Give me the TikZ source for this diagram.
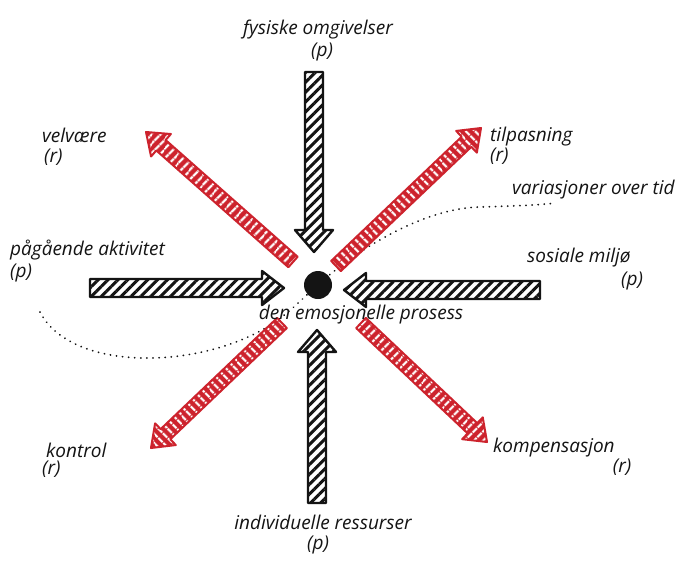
\documentclass[tikz,border=0pt]{standalone}
\usepackage{fontspec}
\setmainfont{Open Sans}
\usetikzlibrary{calc,patterns.meta}
\definecolor{redink}{RGB}{205,35,45}
\definecolor{ink}{RGB}{20,20,20}
\tikzset{
  lbl/.style={font=\itshape\fontsize{19}{21}\selectfont, inner sep=0pt, text=ink},
  blackarrow/.style={preaction={fill=white},
    preaction={pattern={Lines[angle=45,distance=7pt,line width=3pt]}, pattern color=ink},
    draw=ink, line width=2.4pt, line join=round},
  redarrow/.style={preaction={fill=redink},
    preaction={pattern={Lines[angle=#1,distance=6.5pt,line width=2.3pt]}, pattern color=white},
    draw=redink, line width=2pt, line join=round},
  dotline/.style={ink, line width=1.9pt, line cap=round, dash pattern=on 0.1pt off 6pt}
}
\newcommand\fatarrow[6]{%
  \coordinate (fa-h) at ($(#3)!#6!(#2)$);
  \path[#1] ($(#2)!#4!90:(#3)$) -- ($(fa-h)!#4!-90:(#2)$) -- ($(fa-h)!#5!-90:(#2)$)
    -- (#3) -- ($(fa-h)!#5!90:(#2)$) -- ($(fa-h)!#4!90:(#2)$) -- ($(#2)!#4!-90:(#3)$) -- cycle;
}
\begin{document}
\begin{tikzpicture}[x=1pt,y=-1pt]
\fill[white] (0,0) rectangle (691,566);
\useasboundingbox (0,0) rectangle (691,566);

% dotted line (variations over time)
\coordinate (dS) at (40,312);
\coordinate (dM) at (318,285);
\coordinate (dE) at (556,203);
\draw[dotline] (dS) .. controls (70,370) and (190,370) .. (262,330)
  .. controls (290,314) and (302,298) .. (dM)
  .. controls (350,255) and (420,208) .. (480,207)
  .. controls (515,206) and (540,205) .. (dE);

% coordinates of arrows
\coordinate (tT) at (314,72);  \coordinate (tH) at (314,252);
\coordinate (bT) at (317,503); \coordinate (bH) at (317,330);
\coordinate (lT) at (90,288);  \coordinate (lH) at (284,288);
\coordinate (rT) at (540,290); \coordinate (rH) at (344,290);
\coordinate (ulT) at (293,262); \coordinate (ulH) at (146,132);
\coordinate (urT) at (336,266); \coordinate (urH) at (481,128);
\coordinate (llT) at (282,323); \coordinate (llH) at (151,448);
\coordinate (lrT) at (361,323); \coordinate (lrH) at (487,442);

\fatarrow{blackarrow}{tT}{tH}{9pt}{19pt}{22pt}
\fatarrow{blackarrow}{bT}{bH}{9pt}{19pt}{22pt}
\fatarrow{blackarrow}{lT}{lH}{9pt}{17pt}{22pt}
\fatarrow{blackarrow}{rT}{rH}{9pt}{17pt}{22pt}

\fatarrow{redarrow=47}{ulT}{ulH}{7pt}{15pt}{20pt}
\fatarrow{redarrow=134}{urT}{urH}{7pt}{15pt}{20pt}
\fatarrow{redarrow=134}{llT}{llH}{7pt}{15pt}{20pt}
\fatarrow{redarrow=46}{lrT}{lrH}{7pt}{15pt}{20pt}

% centre
\fill[ink] (dM) circle (14);

% labels
\node[lbl] (fys) at (318,30) {fysiske omgivelser};
\node[lbl] (fysp) at (322,52) {(p)};
\node[lbl, anchor=west] (vel) at (42,135) {velvære};
\node[lbl, anchor=west] (velr) at (44,157) {(r)};
\node[lbl, anchor=west] (til) at (490,137) {tilpasning};
\node[lbl, anchor=west] (tilr) at (490,156) {(r)};
\node[lbl, anchor=west] (var) at (512,190) {variasjoner over tid};
\node[lbl, anchor=west] (pag) at (10,250) {pågående aktivitet};
\node[lbl, anchor=west] (pagp) at (10,273) {(p)};
\node[lbl, anchor=west] (sos) at (527,258) {sosiale miljø};
\node[lbl] (sosp) at (632,281) {(p)};
\node[lbl] (emo) at (361,315) {den emosjonelle prosess};
\node[lbl, anchor=west] (kon) at (46,450) {kontrol};
\node[lbl, anchor=west] (konr) at (42,469) {(r)};
\node[lbl, anchor=west] (kom) at (493,448) {kompensasjon};
\node[lbl] (komr) at (622,467) {(r)};
\node[lbl] (ind) at (323,522) {individuelle ressurser};
\node[lbl] (indp) at (318,545) {(p)};
\end{tikzpicture}
\end{document}
